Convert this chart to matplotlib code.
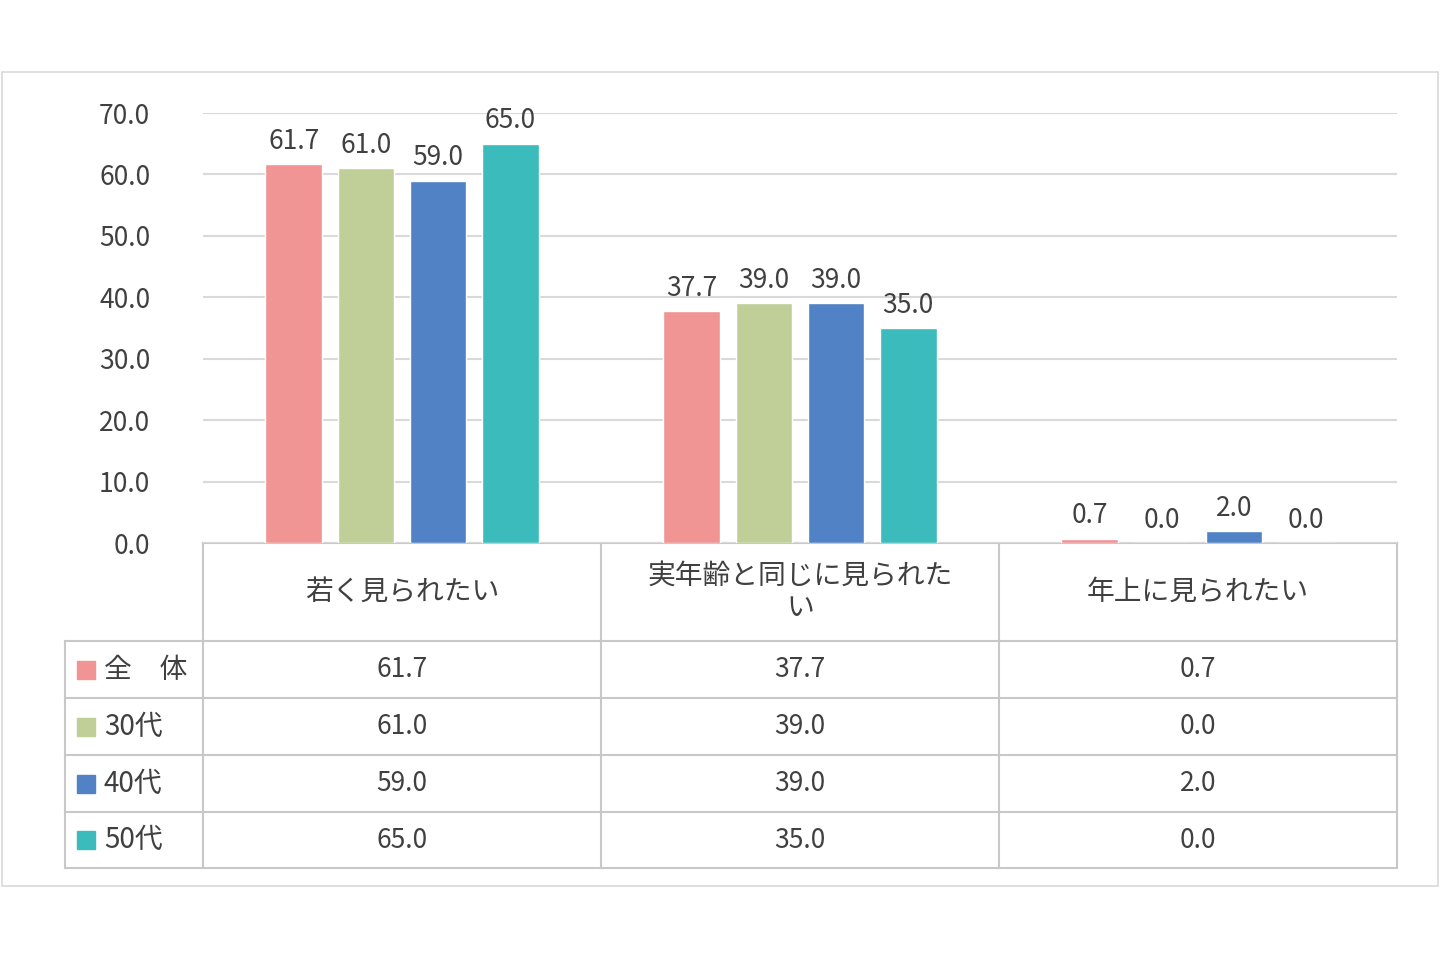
import matplotlib.pyplot as plt
from matplotlib.patches import Rectangle

plt.rcParams['font.family'] = 'Noto Sans CJK JP'

categories = ['若く見られたい', '実年齢と同じに見られた\nい', '年上に見られたい']
series = ['全\u3000体', '30代', '40代', '50代']
values = [
    [61.7, 37.7, 0.7],
    [61.0, 39.0, 0.0],
    [59.0, 39.0, 2.0],
    [65.0, 35.0, 0.0],
]
colors = ['#F09494', '#BFCF97', '#5082C5', '#3BBBBB']
yticks = [0, 10, 20, 30, 40, 50, 60, 70]

W, H = 1440, 960
fig = plt.figure(figsize=(14.4, 9.6), dpi=100)

# background / outer frame in pixel coords
bg = fig.add_axes([0, 0, 1, 1])
bg.set_xlim(0, W)
bg.set_ylim(H, 0)
bg.axis('off')
bg.add_patch(Rectangle((2, 72), 1436, 814, fill=False, ec='#D9D9D9', lw=1.2))

x0, x1, y0, y1 = 203, 1397, 543, 113
ax = fig.add_axes([x0 / W, 1 - y0 / H, (x1 - x0) / W, (y0 - y1) / H])
ax.set_xlim(0, 3)
ax.set_ylim(0, 70)
ax.set_yticks(yticks)
ax.set_yticklabels([f'{t:.1f}' for t in yticks], fontsize=19, color='#404040')
ax.set_xticks([])
for s in ax.spines.values():
    s.set_visible(False)
ax.tick_params(axis='y', length=0, pad=38)
ax.grid(axis='y', color='#D9D9D9', lw=1.5)
ax.set_axisbelow(True)
ax.patch.set_alpha(0)

bw, step = 0.143, 0.181
for i, (vals, c) in enumerate(zip(values, colors)):
    for j, v in enumerate(vals):
        xc = j + 0.5 + (i - 1.5) * step
        ax.bar(xc, v, bw, color=c, ec='white', lw=1, zorder=3)
        ax.text(xc, v + 1.5, f'{v:.1f}', ha='center', va='bottom',
                fontsize=19, color='#404040')

# data table
line = '#C8C8C8'
cw = (x1 - x0) / 3
rows = [543, 641, 698, 755, 812, 868]
lx = 65
for y in rows[1:]:
    bg.plot([lx, x1], [y, y], color=line, lw=1.5)
bg.plot([x0, x1], [rows[0], rows[0]], color=line, lw=1.5)
bg.plot([lx, lx], [rows[1], rows[-1]], color=line, lw=1.5)
for k in range(4):
    xx = x0 + k * cw
    bg.plot([xx, xx], [rows[0], rows[-1]], color=line, lw=1.5)
for j, cat in enumerate(categories):
    bg.text(x0 + (j + 0.5) * cw, (rows[0] + rows[1]) / 2, cat, ha='center',
            va='center', fontsize=20, color='#404040', linespacing=1.1)
for i, name in enumerate(series):
    yc = (rows[i + 1] + rows[i + 2]) / 2
    bg.add_patch(Rectangle((77, yc - 9), 18, 18, color=colors[i]))
    bg.text(104, yc, name, ha='left', va='center', fontsize=20, color='#404040')
    for j in range(3):
        bg.text(x0 + (j + 0.5) * cw, yc, f'{values[i][j]:.1f}', ha='center',
                va='center', fontsize=19, color='#404040')

fig.savefig('out.png', dpi=100)
